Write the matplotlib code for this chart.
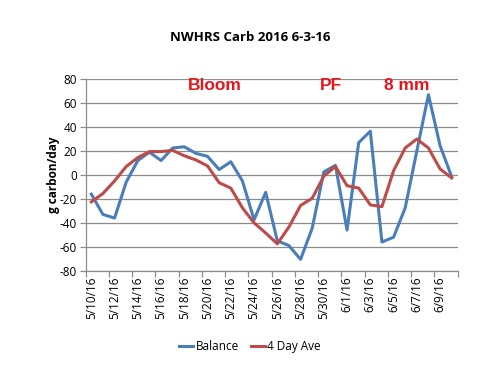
import pandas as pd
import matplotlib
matplotlib.use('Agg')
import matplotlib.pyplot as plt

# daily values, 5/10/16 .. 6/10/16
dates = pd.date_range('2016-05-10', '2016-06-10', freq='D')
balance = [-16, -33, -36, -6, 12, 19, 12, 22.5, 23.5, 18, 15.5, 4.5, 11, -5, -37.5, -14.5,
           -55, -59, -70.5, -44.5, 2.5, 8, -46, 27, 36.5, -56, -52, -27.5, 20, 67, 24.5, -1.5]
ave4 = [-22.5, -15.5, -5, 7, 14.5, 19.5, 19.5, 20.5, 16, 12.5, 7.5, -6.5, -11, -27.5, -40, -48.5,
        -57.5, -43.5, -25.5, -19.5, -1, 7, -9, -11, -25, -26.5, 3.5, 22.5, 30, 22.5, 5, -2.5]
labels = [f'{d.month}/{d.day}/16' for d in dates]
notes = ['Bloom', 'PF', '8 mm']
note_x = [10.6, 20.6, 27.1]

plt.rcParams['font.family'] = ['Open Sans', 'DejaVu Sans']

fig = plt.figure(figsize=(5, 3.75), dpi=100)
ax = fig.add_axes([0.171, 0.278, 0.744, 0.511])

x = range(len(dates))
ax.plot(x, balance, color='#4a7ebb', lw=2.2, label='Balance')
ax.plot(x, ave4, color='#be4b48', lw=2.2, label='4 Day Ave')

ax.set_xlim(-0.5, len(dates) - 0.5)
ax.set_ylim(-80, 80)
ax.set_yticks(range(-80, 81, 20))
ax.set_yticklabels([str(v) for v in range(-80, 81, 20)], fontsize=8.5)
ax.yaxis.grid(True, color='#8c8c8c', lw=0.9)
ax.set_axisbelow(True)

# category-style axis: tick marks between days, labels every 2nd day
ax.set_xticks([i - 0.5 for i in range(0, len(dates) + 1, 2)])
ax.set_xticklabels([])
ax.set_xticks(list(range(0, len(dates), 2)), minor=True)
ax.set_xticklabels(labels[::2], minor=True, rotation=90, fontsize=8.5)
ax.tick_params(axis='x', which='minor', length=0, pad=4)
ax.tick_params(axis='both', which='major', length=4, color='#8c8c8c', width=0.9)
ax.tick_params(axis='y', pad=2)

for s in ['top', 'right']:
    ax.spines[s].set_visible(False)
for s in ['left', 'bottom']:
    ax.spines[s].set_color('#8c8c8c')
    ax.spines[s].set_linewidth(0.9)

ax.set_ylabel('g carbon/day', fontsize=8.5, fontweight='bold', labelpad=0)

for t, xx in zip(notes, note_x):
    ax.text(xx, 75, t, color='#e8141c', fontsize=12.5, fontweight='bold',
            family=['Liberation Sans'], ha='center', va='center')

fig.text(0.5, 0.9, 'NWHRS Carb 2016 6-3-16', ha='center', va='center',
         fontsize=9.5, fontweight='bold')

fig.legend(loc='center', bbox_to_anchor=(0.5, 0.075), ncol=2, frameon=False,
           fontsize=8.5, handlelength=1.2, handletextpad=0.2, columnspacing=1.0)

fig.savefig('out.png', dpi=100)
